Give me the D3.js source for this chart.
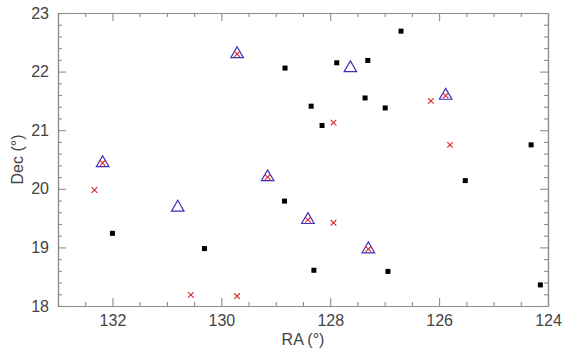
<!DOCTYPE html>
<html>
<head>
<meta charset="utf-8">
<script src="https://cdn.jsdelivr.net/npm/d3@7"></script>
<style>
  html, body { margin: 0; padding: 0; background: #fff; }
  svg { display: block; }
  text { font-family: "Liberation Sans", Arial, sans-serif; fill: #444; }
</style>
</head>
<body>
<svg id="chart" width="570" height="356"></svg>
<script>
// ---- data (RA, Dec in degrees) ----
const squareRA  = [132.00, 130.31, 128.83, 128.84, 128.30, 127.88, 127.31, 128.35, 128.15, 127.36, 126.99, 126.70, 126.94, 125.52, 124.31, 124.14];
const squareDec = [19.24, 18.98, 22.06, 19.79, 18.61, 22.15, 22.19, 21.41, 21.08, 21.55, 21.38, 22.69, 18.59, 20.14, 20.75, 18.36];

const crossRA  = [132.33, 130.56, 129.71, 127.94, 127.94, 126.15, 125.80, 132.18, 129.71, 129.15, 128.41, 127.30, 125.88];
const crossDec = [19.98, 18.19, 18.17, 21.13, 19.42, 21.50, 20.75, 20.44, 22.30, 20.20, 19.47, 18.97, 21.59];

const triRA  = [132.18, 130.80, 129.71, 129.15, 128.41, 127.63, 127.30, 125.88];
const triDec = [20.44, 19.68, 22.30, 20.20, 19.47, 22.06, 18.97, 21.59];

const xDomain = [133, 124];
const yDomain = [18, 23];
const xMajor = [132, 130, 128, 126, 124];
const yMajor = [18, 19, 20, 21, 22, 23];
const xLabel = "RA (°)";
const yLabel = "Dec (°)";

// ---- layout ----
const L = 58, R = 548, T = 13, B = 306;
const svg = d3.select("#chart");
const x = d3.scaleLinear().domain(xDomain).range([L, R]);
const y = d3.scaleLinear().domain(yDomain).range([B, T]);

const xMinor = d3.range(133, 123.99, -0.5).filter(v => !xMajor.some(m => Math.abs(m - v) < 1e-6));
const yMinor = d3.range(18, 23.001, 0.2).map(v => +v.toFixed(1)).filter(v => !yMajor.some(m => Math.abs(m - v) < 1e-6));

const axisColor = "#8c8c8c";
function styleAxis(g) {
  g.selectAll("path.domain").attr("stroke", axisColor).attr("stroke-width", 1.2);
  g.selectAll(".tick line").attr("stroke", axisColor).attr("stroke-width", 1.1);
  g.selectAll(".tick text").attr("font-size", 16).attr("fill", "#444")
    .attr("font-family", "Liberation Sans, Arial, sans-serif");
}

// bottom
svg.append("g").attr("transform", `translate(0,${B})`)
  .call(d3.axisBottom(x).tickValues(xMajor).tickSizeInner(-8).tickSizeOuter(0).tickPadding(9).tickFormat(d3.format("d")))
  .call(styleAxis);
svg.append("g").attr("transform", `translate(0,${B})`)
  .call(d3.axisBottom(x).tickValues(xMinor).tickSizeInner(-4).tickSizeOuter(0).tickFormat(""))
  .call(styleAxis);
// top
svg.append("g").attr("transform", `translate(0,${T})`)
  .call(d3.axisTop(x).tickValues(xMajor).tickSizeInner(-8).tickSizeOuter(0).tickFormat(""))
  .call(styleAxis);
svg.append("g").attr("transform", `translate(0,${T})`)
  .call(d3.axisTop(x).tickValues(xMinor).tickSizeInner(-4).tickSizeOuter(0).tickFormat(""))
  .call(styleAxis);
// left
svg.append("g").attr("transform", `translate(${L},0)`)
  .call(d3.axisLeft(y).tickValues(yMajor).tickSizeInner(-8).tickSizeOuter(0).tickPadding(9).tickFormat(d3.format("d")))
  .call(styleAxis);
svg.append("g").attr("transform", `translate(${L},0)`)
  .call(d3.axisLeft(y).tickValues(yMinor).tickSizeInner(-4).tickSizeOuter(0).tickFormat(""))
  .call(styleAxis);
// right
svg.append("g").attr("transform", `translate(${R},0)`)
  .call(d3.axisRight(y).tickValues(yMajor).tickSizeInner(-8).tickSizeOuter(0).tickFormat(""))
  .call(styleAxis);
svg.append("g").attr("transform", `translate(${R},0)`)
  .call(d3.axisRight(y).tickValues(yMinor).tickSizeInner(-4).tickSizeOuter(0).tickFormat(""))
  .call(styleAxis);

// axis titles
svg.append("text").attr("x", (L + R) / 2).attr("y", 345)
  .attr("text-anchor", "middle").attr("font-size", 16).text(xLabel);
svg.append("text").attr("transform", `translate(23,${(T + B) / 2}) rotate(-90)`)
  .attr("text-anchor", "middle").attr("font-size", 16).text(yLabel);

// ---- marks ----
const squares = squareRA.map((r, i) => ({ ra: r, dec: squareDec[i] }));
const crosses = crossRA.map((r, i) => ({ ra: r, dec: crossDec[i] }));
const tris = triRA.map((r, i) => ({ ra: r, dec: triDec[i] }));

const sq = 5;
svg.append("g").selectAll("rect").data(squares).join("rect")
  .attr("x", d => x(d.ra) - sq / 2).attr("y", d => y(d.dec) - sq / 2)
  .attr("width", sq).attr("height", sq).attr("fill", "#000");

const tri = d3.symbol().type(d3.symbolTriangle).size(68);
svg.append("g").selectAll("path").data(tris).join("path")
  .attr("d", tri).attr("transform", d => `translate(${x(d.ra)},${y(d.dec)})`)
  .attr("fill", "none").attr("stroke", "#3a32b8").attr("stroke-width", 1.2);

const c = 2.8;
svg.append("g").selectAll("path").data(crosses).join("path")
  .attr("d", d => {
    const cx = x(d.ra), cy = y(d.dec);
    return `M${cx - c},${cy - c}L${cx + c},${cy + c}M${cx - c},${cy + c}L${cx + c},${cy - c}`;
  })
  .attr("fill", "none").attr("stroke", "#d8262a").attr("stroke-width", 1.1);
</script>
</body>
</html>
